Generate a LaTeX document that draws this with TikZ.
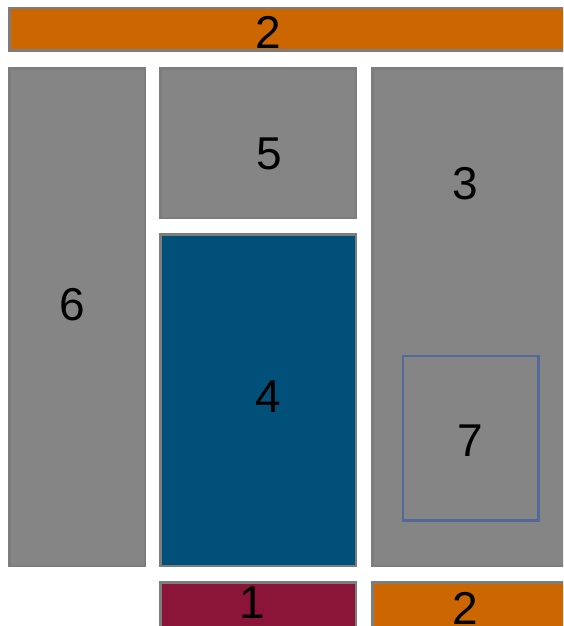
\documentclass[tikz,border=0pt]{standalone}
\usepackage{fontspec}
\setmainfont{Liberation Sans}
\usepackage{xcolor}
\usetikzlibrary{positioning, calc}
\definecolor{boxgray}{HTML}{858585}
\definecolor{rimgray}{HTML}{7D7D7D}
\definecolor{burnt}{HTML}{CC6600}
\definecolor{deepblue}{HTML}{00507A}
\definecolor{maroon}{HTML}{8B1538}
\definecolor{slateblue}{HTML}{53699A}

\begin{document}
\begin{tikzpicture}[x=1pt, y=-1pt, line width=2.5pt,
  tile/.style={draw=rimgray, fill=boxgray},
  digit/.style={font=\fontsize{46}{50}\selectfont, inner sep=0pt}]
  \useasboundingbox (0,0) rectangle (563,626);
  \clip (0,0) rectangle (563,626);

  % Horní pruh
  \draw[tile, fill=burnt] (9.25,8.25) rectangle (580,50.75);

  % Levý sloupec
  \draw[tile] (9.25,68.25) rectangle (144.75,565.75);

  % Prostřední sloupec
  \draw[tile] (160.25,68.25) rectangle (355.75,217.75);
  \draw[tile, fill=deepblue] (160.25,234.25) rectangle (355.75,565.75);

  % Pravý sloupec a vnořený rámeček
  \draw[tile] (372.25,68.25) rectangle (580,565.75);
  \draw[slateblue] (402.75,355.75) rectangle (538.25,520.25);

  % Spodní řada
  \draw[tile, fill=maroon] (160.25,582.25) rectangle (355.75,640);
  \draw[tile, fill=burnt] (372.25,582.25) rectangle (580,640);

  % Popisky
  \node[digit] (top) at (268,32) {2};
  \node[digit] (six) at (72,305) {6};
  \node[digit] (five) at (269,154) {5};
  \node[digit] (four) at (268,397) {4};
  \node[digit] (three) at (465,184) {3};
  \node[digit] (seven) at (470,441) {7};
  \node[digit] (one) at (252,603) {1};
  \node[digit] (bottom) at (465,608) {2};
\end{tikzpicture}
\end{document}
